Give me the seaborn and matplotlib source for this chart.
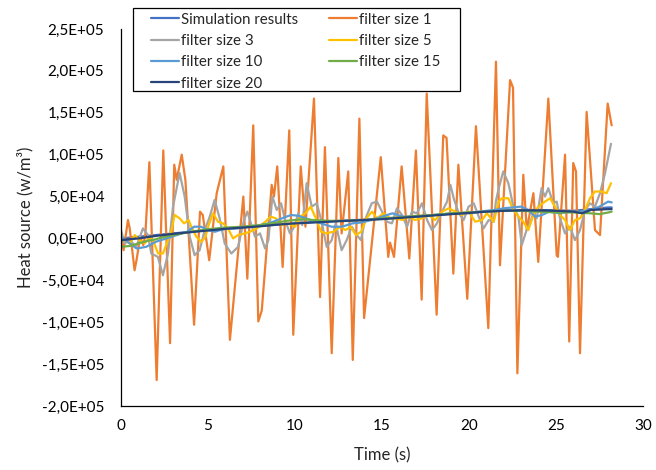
import numpy as np
import pandas as pd
import matplotlib
matplotlib.use("Agg")
import matplotlib.pyplot as plt
from matplotlib.ticker import FuncFormatter, MultipleLocator
from matplotlib.patches import Rectangle
import seaborn as sns

# ---- series (time in s, heat source in W/m^3) ----
t_sim = [0, 1, 2, 3, 4, 5, 6, 7, 8, 9, 10, 11, 12, 13, 14, 15, 16, 17, 18, 19,
         20, 21, 22, 23, 24, 25, 26, 27, 28, 28.2]
v_sim = [0, 2e3, 4e3, 6e3, 8e3, 10e3, 11.5e3, 13e3, 15e3, 16.5e3, 18e3, 19.5e3,
         20.5e3, 21.5e3, 22.5e3, 23.5e3, 25e3, 26.5e3, 28e3, 29.5e3, 31e3, 32.5e3,
         33.5e3, 34e3, 34e3, 33.5e3, 33e3, 35e3, 37e3, 37e3]

t_f1 = [0.0, 0.15, 0.4, 0.5, 0.78, 0.9, 1.1, 1.28, 1.4, 1.63, 2.05, 2.43, 2.82,
        3.06, 3.2, 3.49, 3.7, 4.2, 4.54, 4.7, 5.07, 5.5, 5.88, 6.26, 7.03, 7.26,
        7.6, 7.89, 8.09, 8.66, 8.79, 8.98, 9.29, 9.67, 9.9, 10.33, 10.6, 11.09,
        11.44, 11.72, 12.11, 12.49, 12.68, 13.06, 13.32, 13.7, 13.97, 14.93,
        15.36, 15.46, 15.69, 16.13, 16.57, 16.95, 17.28, 17.57, 18.14, 18.52,
        18.71, 19.1, 19.39, 19.9, 20.4, 21.11, 21.55, 21.78, 22.36, 22.53, 22.78,
        23.12, 23.32, 23.7, 23.98, 24.56, 25.04, 25.11, 25.52, 25.76, 25.99,
        26.15, 26.38, 26.76, 27.24, 27.53, 27.97, 28.2]
v_f1 = [0, -14e3, 22e3, 12e3, -38e3, -25e3, 2e3, -8e3, 5e3, 91e3, -169e3, 105e3,
        -125e3, 88e3, 70e3, 100e3, 70e3, -103e3, 32e3, 28e3, -26e3, 54e3, 86e3,
        -121e3, 50e3, -48e3, 135e3, -99e3, -86e3, 64e3, 50e3, 86e3, -34e3, 129e3,
        -115e3, 86e3, 14e3, 167e3, -70e3, 109e3, -137e3, 96e3, 6e3, 80e3, -145e3,
        143e3, -95e3, 97e3, -22e3, -5e3, -22e3, 86e3, -24e3, 105e3, -73e3, 173e3,
        -91e3, 123e3, 120e3, -42e3, 88e3, -72e3, 134e3, -107e3, 211e3, -32e3,
        189e3, 180e3, -161e3, 76e3, 10e3, 54e3, -28e3, 167e3, -20e3, -22e3, 100e3,
        -123e3, 90e3, 80e3, -137e3, 151e3, 10e3, 4e3, 161e3, 135e3]

t_f3 = [0, 0.21, 0.5, 0.88, 1.26, 1.55, 1.74, 2.12, 2.41, 2.7, 2.99, 3.37, 3.66,
        3.95, 4.23, 4.52, 4.81, 5.1, 5.38, 5.67, 5.96, 6.34, 6.73, 7.07, 7.26,
        7.41, 7.7, 7.99, 8.28, 8.47, 8.7, 8.95, 9.2, 9.43, 9.71, 9.96, 10.19,
        10.42, 10.67, 10.96, 11.25, 11.53, 11.82, 12.11, 12.34, 12.68, 12.97,
        13.26, 13.55, 13.79, 14.02, 14.41, 14.71, 15.0, 15.28, 15.57, 15.86,
        16.15, 16.44, 16.72, 17.0, 17.3, 17.59, 17.87, 18.16, 18.45, 18.74,
        18.93, 19.12, 19.41, 19.69, 19.98, 20.27, 20.56, 20.84, 21.13, 21.42,
        21.55, 21.71, 21.97, 22.26, 22.55, 22.84, 23.03, 23.31, 23.5, 23.7,
        23.89, 24.17, 24.37, 24.56, 24.84, 25.04, 25.23, 25.52, 25.8, 26.09,
        26.38, 26.67, 26.95, 27.24, 27.53, 27.82, 28.16]
v_f3 = [10e3, -6e3, -2e3, -10e3, 12e3, 4e3, -18e3, -22e3, -44e3, -18e3, 38e3,
        78e3, 50e3, 2e3, -20e3, -14e3, 10e3, 26e3, 46e3, 24e3, -6e3, -18e3,
        -10e3, 22e3, 32e3, 22e3, 2e3, 6e3, -12e3, -2e3, 50e3, 34e3, 42e3, 22e3,
        6e3, 14e3, 30e3, 16e3, 66e3, 38e3, 42e3, 20e3, -10e3, -2e3, 18e3, -14e3,
        -2e3, 14e3, 4e3, -2e3, 22e3, 42e3, 44e3, 32e3, 20e3, 18e3, 36e3, 28e3,
        14e3, 32e3, 30e3, 42e3, 22e3, 10e3, 18e3, 32e3, 44e3, 64e3, 48e3, 30e3,
        22e3, 38e3, 42e3, 26e3, 12e3, 22e3, 20e3, 45e3, 60e3, 80e3, 66e3, 38e3,
        26e3, -8e3, 10e3, 18e3, 30e3, 24e3, 60e3, 50e3, 60e3, 42e3, 44e3, 24e3,
        6e3, 14e3, -2e3, 10e3, 34e3, 42e3, 38e3, 54e3, 78e3, 113e3]

t_f5 = [0, 0.2, 0.5, 0.79, 1.07, 1.36, 1.65, 1.84, 2.13, 2.41, 2.7, 2.89, 3.08,
        3.37, 3.62, 3.89, 4.04, 4.33, 4.62, 4.85, 5.04, 5.29, 5.57, 5.86, 6.15,
        6.44, 6.73, 7.11, 7.41, 7.8, 8.3, 8.6, 8.9, 9.2, 9.6, 10.0, 10.3, 10.6,
        10.9, 11.2, 11.5, 11.8, 12.2, 12.6, 12.9, 13.2, 13.5, 13.8, 14.1, 14.43,
        14.71, 15.09, 15.47, 15.86, 16.15, 16.53, 16.9, 17.3, 17.68, 18.06,
        18.45, 18.83, 19.21, 19.6, 19.98, 20.36, 20.75, 21.03, 21.42, 21.71,
        21.9, 22.26, 22.55, 22.84, 23.12, 23.41, 23.7, 23.99, 24.37, 24.66,
        24.94, 25.23, 25.52, 25.8, 26.09, 26.38, 26.67, 26.95, 27.24, 27.62,
        27.91, 28.16]
v_f5 = [0, -2e3, -6e3, 4e3, -2e3, -6e3, 2e3, -2e3, -18e3, -18e3, -2e3, 8e3, 28e3,
        24e3, 18e3, 22e3, 14e3, 2e3, -4e3, 2e3, 16e3, 30e3, 20e3, 18e3, 12e3, 0,
        4e3, 6e3, 8e3, 12e3, 20e3, 26e3, 24e3, 16e3, 18e3, 14e3, 26e3, 30e3,
        38e3, 24e3, 8e3, 6e3, 8e3, 14e3, 10e3, 14e3, 4e3, 8e3, 24e3, 32e3, 24e3,
        30e3, 24e3, 24e3, 22e3, 26e3, 22e3, 24e3, 28e3, 22e3, 32e3, 36e3, 32e3,
        28e3, 32e3, 20e3, 22e3, 30e3, 20e3, 44e3, 48e3, 48e3, 34e3, 26e3, 20e3,
        10e3, 28e3, 38e3, 44e3, 48e3, 38e3, 28e3, 22e3, 10e3, 22e3, 24e3, 34e3,
        48e3, 56e3, 56e3, 54e3, 66e3]

t_f10 = [0, 0.5, 0.9, 1.45, 2.0, 2.6, 3.2, 3.8, 4.2, 4.6, 5.0, 5.4, 5.7, 6.2,
         6.7, 7.3, 8.0, 8.5, 9.0, 9.5, 9.8, 10.2, 10.9, 11.5, 12.1, 12.7, 13.3,
         13.8, 14.4, 15.0, 15.6, 16.2, 17.0, 18.0, 19.0, 20.0, 21.0, 21.5, 22.0,
         23.0, 23.4, 23.8, 24.2, 24.6, 25.2, 25.8, 26.4, 27.0, 27.5, 28.0, 28.2]
v_f10 = [2e3, -6e3, -12e3, -10e3, -4e3, 0, 4e3, 8e3, 14e3, 14e3, 10e3, 8e3, 10e3,
         12e3, 12e3, 14e3, 16e3, 18e3, 22e3, 26e3, 28e3, 27e3, 22e3, 18e3, 14e3,
         14e3, 18e3, 19e3, 22e3, 26e3, 30e3, 26e3, 26e3, 28e3, 30e3, 30e3, 33e3,
         34e3, 36e3, 38e3, 34e3, 26e3, 28e3, 32e3, 30e3, 32e3, 32e3, 34e3, 38e3,
         44e3, 43e3]

t_f15 = [0, 0.5, 1, 1.5, 2, 2.5, 3, 3.5, 4, 5, 6, 7, 8, 9, 9.5, 10, 10.5, 11, 12,
         13, 14, 15, 16, 17, 18, 19, 20, 21, 22, 23, 24, 25, 26, 27, 27.5, 28,
         28.2]
v_f15 = [-10e3, -9e3, -6e3, -3e3, -1e3, 2e3, 4e3, 6e3, 8e3, 11e3, 13e3, 14e3,
         16e3, 19e3, 21e3, 22e3, 23e3, 22e3, 21e3, 21e3, 22e3, 24e3, 25e3, 27e3,
         28e3, 30e3, 31e3, 32e3, 33e3, 33e3, 32e3, 31e3, 31e3, 30e3, 29e3, 31e3,
         32e3]

t_f20 = [0, 1, 2, 3, 4, 5, 6, 7, 8, 9, 10, 11, 12, 13, 14, 15, 16, 17, 18, 19,
         20, 21, 22, 23, 24, 25, 26, 26.5, 27, 28, 28.2]
v_f20 = [-2e3, 0, 3e3, 5.5e3, 7.5e3, 9.5e3, 11.5e3, 13e3, 14.5e3, 16.5e3, 18e3,
         19e3, 20e3, 21e3, 22e3, 23e3, 24.5e3, 26e3, 27.5e3, 29e3, 30.5e3, 32e3,
         33e3, 33.5e3, 33.5e3, 33e3, 32e3, 30e3, 34e3, 35e3, 35e3]

series = [
    ("Simulation results", t_sim, v_sim, "#4472C4"),
    ("filter size 1", t_f1, v_f1, "#ED7D31"),
    ("filter size 3", t_f3, v_f3, "#A5A5A5"),
    ("filter size 5", t_f5, v_f5, "#FFC000"),
    ("filter size 10", t_f10, v_f10, "#5B9BD5"),
    ("filter size 15", t_f15, v_f15, "#70AD47"),
    ("filter size 20", t_f20, v_f20, "#264478"),
]

sns.set_style("white")
plt.rcParams["font.family"] = ["Lato", "DejaVu Sans"]

W, H = 656, 470
fig = plt.figure(figsize=(W / 100, H / 100), dpi=100)
ax = fig.add_axes([121 / W, 64 / H, 522 / W, 377 / H])

handles = {}
for name, t, v, col in series:
    df = pd.DataFrame({"t": t, "v": v})
    sns.lineplot(data=df, x="t", y="v", ax=ax, color=col, linewidth=1.6,
                 estimator=None, sort=False, label=name)
    handles[name] = ax.get_lines()[-1]

ax.set_xlim(0, 30)
ax.set_ylim(-2.0e5, 2.5e5)
ax.xaxis.set_major_locator(MultipleLocator(5))
ax.yaxis.set_major_locator(MultipleLocator(5e4))


def sci_comma(val, pos):
    if val == 0:
        return "0,0E+00"
    e = int(np.floor(np.log10(abs(val))))
    m = val / 10 ** e
    return f"{m:.1f}E{e:+03d}".replace(".", ",")


ax.yaxis.set_major_formatter(FuncFormatter(sci_comma))
ax.tick_params(axis="both", direction="in", length=4, width=0.8,
               colors="black", labelsize=11)
ax.tick_params(axis="y", pad=12)
ax.tick_params(axis="x", pad=9)
for side in ["top", "right"]:
    ax.spines[side].set_visible(False)
for side in ["left", "bottom"]:
    ax.spines[side].set_color("black")
    ax.spines[side].set_linewidth(0.9)

ax.set_xlabel("Time (s)", fontsize=12, labelpad=11)
ax.set_ylabel("Heat source (w/m³)", fontsize=12, labelpad=6)

# legend box drawn as a figure-level frame, entries laid out row by row
frame = Rectangle((133 / W, 1 - 91 / H), (460 - 133) / W, (91 - 8) / H,
                  transform=fig.transFigure, facecolor="white",
                  edgecolor="black", linewidth=0.9, zorder=4)
fig.add_artist(frame)

order = ["Simulation results", "filter size 3", "filter size 10", "filter size 20",
         "filter size 1", "filter size 5", "filter size 15"]
ax.legend().remove()
leg = fig.legend([handles[n] for n in order], order, ncol=2,
                 loc="upper left", bbox_to_anchor=(151 / W, 1 - 12.5 / H),
                 fontsize=10.8, frameon=False, handlelength=1.85,
                 handletextpad=0.12, columnspacing=2.1, borderpad=0,
                 labelspacing=0.49, borderaxespad=0)
leg.set_zorder(5)

fig.savefig("out.png", dpi=100)
